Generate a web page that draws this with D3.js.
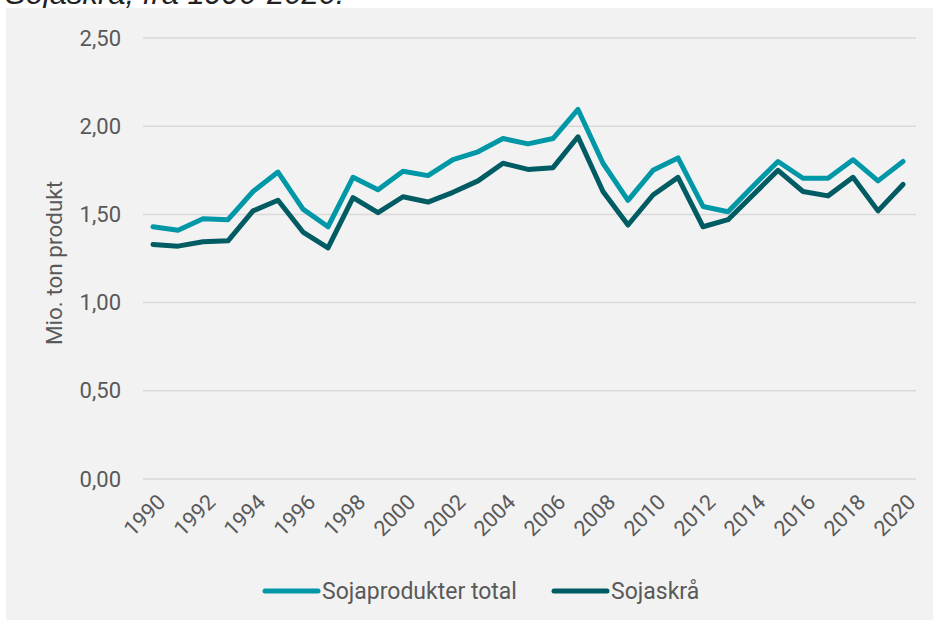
<!DOCTYPE html>
<html>
<head>
<meta charset="utf-8">
<script src="https://cdn.jsdelivr.net/npm/d3@7"></script>
<style>
  html, body { margin: 0; padding: 0; background: #ffffff; }
  svg { display: block; }
</style>
</head>
<body>
<svg id="chart" width="933" height="620"></svg>
<script>
const years = d3.range(1990, 2021);
const yTicks = [0, 0.5, 1.0, 1.5, 2.0, 2.5];
const xTickYears = d3.range(1990, 2021, 2);
const sojaproduktTotal = [1.43, 1.41, 1.475, 1.47, 1.63, 1.74, 1.53, 1.43, 1.71, 1.64,
  1.745, 1.72, 1.81, 1.855, 1.93, 1.90, 1.93, 2.095, 1.79, 1.58,
  1.75, 1.82, 1.545, 1.515, 1.66, 1.80, 1.705, 1.705, 1.81, 1.69, 1.80];
const sojaskraa = [1.33, 1.32, 1.345, 1.35, 1.52, 1.58, 1.40, 1.31, 1.595, 1.51,
  1.60, 1.57, 1.625, 1.69, 1.79, 1.755, 1.765, 1.94, 1.63, 1.44,
  1.61, 1.71, 1.43, 1.47, 1.61, 1.75, 1.63, 1.605, 1.71, 1.52, 1.67];
const seriesNames = ["Sojaprodukter total", "Sojaskrå"];
const seriesColors = ["#0098a7", "#005b62"];
const titleText = "Sojaskrå, fra 1990-2020.";
const yTitle = "Mio. ton produkt";

const svg = d3.select("#chart");
const font = "Roboto, 'Noto Sans', sans-serif";
const textColor = "#595959";

// title (cropped at top, as in the reference)
svg.append("text").attr("x", 5).attr("y", 4)
  .attr("font-family", "'Liberation Sans', Arial, sans-serif")
  .attr("font-style", "italic").attr("font-size", 31).attr("fill", "#222")
  .text(titleText);

// panel
svg.append("rect").attr("x", 6).attr("y", 8).attr("width", 927).attr("height", 612).attr("fill", "#f2f2f2");

const x = d3.scalePoint().domain(years).range([153, 903]);
const y = d3.scaleLinear().domain([0, 2.5]).range([479, 38]);

// gridlines
svg.append("g").selectAll("line").data(yTicks).join("line")
  .attr("x1", 143).attr("x2", 916)
  .attr("y1", d => y(d)).attr("y2", d => y(d))
  .attr("stroke", "#d9d9d9").attr("stroke-width", 1.5);

// y axis labels
const yAxis = d3.axisLeft(y).tickValues(yTicks).tickSize(0).tickPadding(0)
  .tickFormat(d => d3.format(".2f")(d).replace(".", ","));
const gy = svg.append("g").attr("transform", "translate(121,0)").call(yAxis);
gy.select(".domain").remove();
gy.selectAll("text").attr("font-family", font).attr("font-size", 22).attr("fill", textColor);

// y title
svg.append("text")
  .attr("transform", `translate(62,263) rotate(-90)`)
  .attr("text-anchor", "middle")
  .attr("font-family", font).attr("font-size", 22.5).attr("fill", textColor)
  .text(yTitle);

// x axis labels
const xAxis = d3.axisBottom(x).tickValues(xTickYears).tickSize(0).tickPadding(0);
const gx = svg.append("g").attr("transform", "translate(0,492)").call(xAxis);
gx.select(".domain").remove();
gx.selectAll("text")
  .attr("font-family", font).attr("font-size", 21.5).attr("fill", textColor)
  .attr("text-anchor", "end").attr("dy", "0.35em").attr("y", 0)
  .attr("transform", "translate(8,6) rotate(-45)");

// lines
const seriesData = [sojaproduktTotal, sojaskraa];
const line = d3.line().x((d, i) => x(years[i])).y(d => y(d));
seriesData.forEach((vals, k) => {
  svg.append("path").datum(vals).attr("d", line)
    .attr("fill", "none").attr("stroke", seriesColors[k])
    .attr("stroke-width", 5).attr("stroke-linejoin", "round").attr("stroke-linecap", "round");
});

// legend
const legendX = [265, 554];
seriesNames.forEach((name, k) => {
  svg.append("line").attr("x1", legendX[k]).attr("x2", legendX[k] + 53)
    .attr("y1", 591).attr("y2", 591)
    .attr("stroke", seriesColors[k]).attr("stroke-width", 5).attr("stroke-linecap", "round");
  svg.append("text").attr("x", legendX[k] + 57).attr("y", 599)
    .attr("font-family", font).attr("font-size", 23).attr("fill", textColor)
    .text(name);
});
</script>
</body>
</html>
